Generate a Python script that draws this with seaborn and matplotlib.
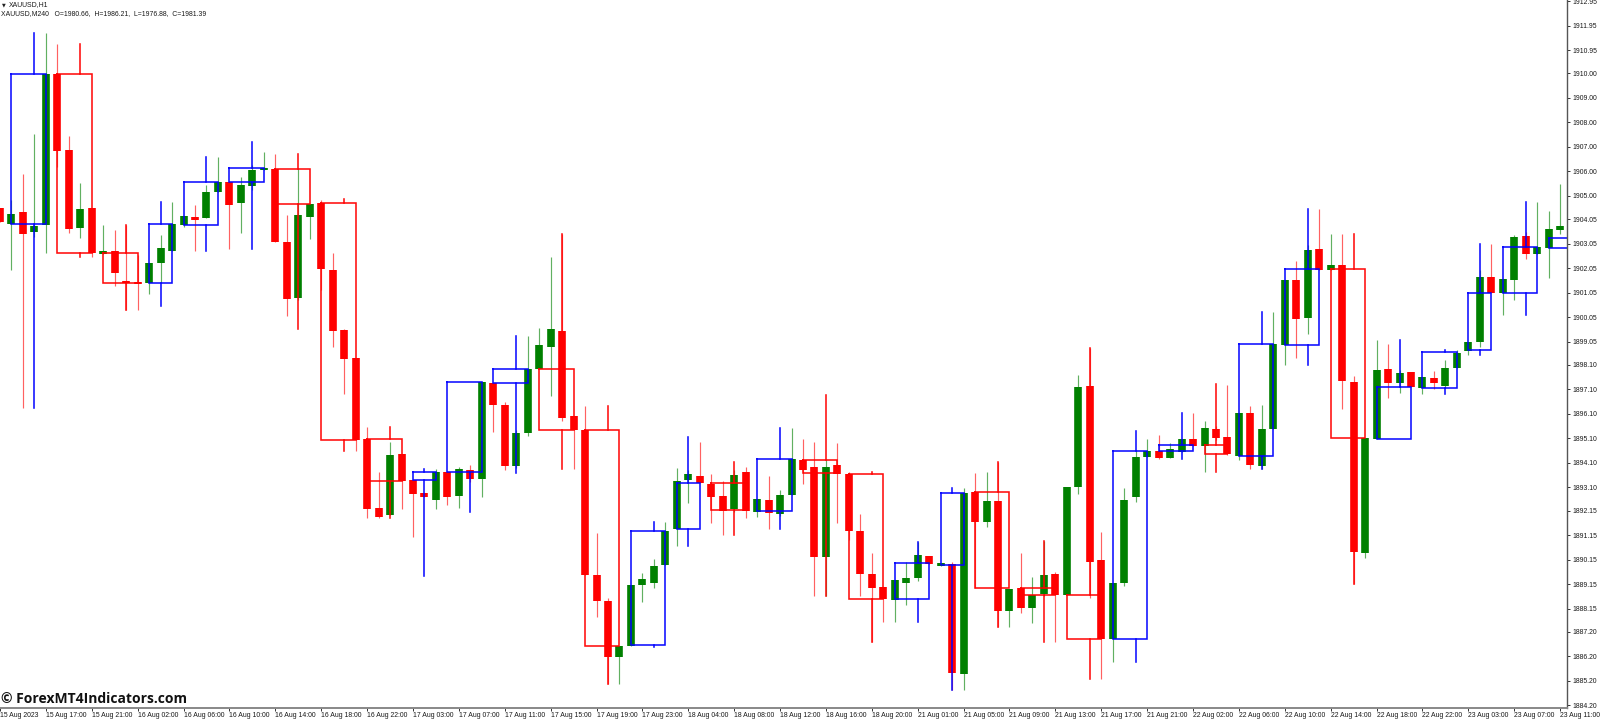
import matplotlib
matplotlib.use("Agg")
import matplotlib.pyplot as plt
import pandas as pd
import seaborn as sns

# H1 candles
opens = [1904.51,1903.85,1904.34,1903.53,1903.81,1909.98,1906.88,1903.69,1904.51,1902.63,
1902.75,1901.53,1901.49,1901.45,1902.26,1902.75,1903.81,1904.14,1904.10,1905.16,
1905.57,1904.71,1905.41,1906.06,1906.10,1903.12,1900.83,1904.14,1904.71,1901.98,
1899.53,1898.38,1895.08,1892.26,1891.97,1894.46,1893.40,1892.87,1892.58,1893.73,
1892.75,1893.81,1893.44,1897.36,1896.46,1893.97,1895.32,1897.93,1898.83,1899.49,
1896.01,1895.44,1889.52,1888.46,1886.17,1886.62,1889.11,1889.20,1889.93,1891.40,
1893.40,1893.56,1893.24,1892.75,1892.22,1893.73,1892.10,1892.58,1892.01,1892.79,
1894.22,1893.93,1890.26,1894.01,1893.65,1891.32,1889.56,1889.03,1888.50,1889.20,
1889.40,1890.30,1889.89,1889.97,1885.48,1892.91,1891.69,1892.54,1888.05,1888.99,
1888.18,1888.75,1889.56,1888.71,1893.12,1897.24,1890.14,1886.91,1889.20,1892.71,
1894.34,1894.59,1894.30,1894.55,1895.08,1894.79,1895.48,1895.16,1894.38,1896.14,
1893.97,1895.48,1898.91,1901.57,1900.02,1902.83,1901.98,1902.18,1897.40,1890.42,
1895.08,1897.93,1897.36,1897.81,1897.16,1897.57,1897.24,1897.97,1898.67,1899.04,
1901.69,1901.04,1901.57,1903.36,1902.63,1902.87,1903.61]
highs = [1904.51,1904.83,1905.90,1907.53,1911.65,1911.20,1907.45,1905.53,1904.51,1903.81,
1903.61,1903.81,1902.59,1902.26,1903.40,1904.75,1904.18,1904.63,1905.45,1906.59,
1905.57,1905.77,1906.26,1906.79,1906.71,1904.22,1906.14,1904.67,1904.83,1902.67,
1899.57,1898.38,1895.57,1893.73,1894.95,1894.46,1893.40,1892.87,1893.85,1893.73,
1893.93,1894.01,1897.40,1897.36,1896.59,1895.44,1899.28,1899.61,1902.51,1903.45,
1896.01,1896.42,1891.24,1888.58,1886.62,1889.11,1889.60,1890.18,1891.69,1893.89,
1893.81,1894.95,1893.65,1893.36,1893.81,1893.93,1892.63,1893.56,1892.99,1895.52,
1895.08,1894.95,1894.20,1894.91,1893.73,1892.01,1890.42,1889.03,1889.32,1890.05,
1890.87,1890.30,1890.01,1890.05,1893.08,1893.69,1893.73,1894.14,1888.95,1890.42,
1889.44,1890.91,1889.64,1893.12,1897.69,1898.79,1891.28,1889.20,1893.08,1894.63,
1895.08,1895.24,1894.91,1895.08,1896.14,1895.81,1895.60,1897.28,1896.14,1896.42,
1896.46,1900.26,1901.57,1902.34,1903.00,1904.47,1903.45,1903.45,1897.65,1895.12,
1899.12,1898.95,1897.89,1897.81,1897.61,1897.85,1898.30,1898.71,1899.04,1901.98,
1903.04,1901.61,1903.40,1903.53,1904.75,1904.38,1905.49]
lows = [1903.94,1901.98,1896.34,1903.32,1902.67,1906.18,1903.49,1903.28,1902.51,1902.63,
1901.32,1900.34,1900.34,1901.00,1901.45,1902.75,1903.73,1902.75,1904.10,1905.16,
1902.83,1903.49,1905.24,1906.06,1903.12,1900.10,1900.75,1903.24,1901.16,1898.83,
1896.91,1894.59,1891.85,1891.85,1891.97,1892.22,1891.07,1892.71,1892.22,1892.38,
1892.26,1893.32,1892.71,1895.36,1893.81,1893.89,1895.20,1897.93,1896.83,1895.81,
1893.85,1889.52,1887.81,1885.07,1885.07,1886.62,1888.42,1888.99,1889.93,1890.71,
1892.46,1893.28,1891.65,1891.16,1892.10,1891.85,1891.89,1891.40,1891.93,1892.79,
1893.24,1888.67,1888.67,1891.65,1890.95,1888.67,1886.79,1887.60,1887.60,1888.30,
1889.28,1889.97,1889.89,1884.83,1884.83,1888.99,1891.48,1887.40,1887.40,1887.97,
1887.56,1888.67,1886.79,1888.71,1892.83,1888.58,1885.28,1885.97,1889.07,1892.50,
1894.34,1894.26,1894.30,1894.55,1894.79,1893.73,1895.05,1894.42,1894.22,1893.85,
1893.85,1895.48,1898.10,1898.38,1899.36,1901.98,1901.98,1896.30,1889.16,1890.22,
1895.08,1896.75,1896.95,1897.20,1896.91,1897.12,1897.16,1897.97,1898.51,1898.83,
1901.04,1900.14,1900.75,1902.43,1902.63,1901.65,1903.45]
closes = [1903.94,1904.26,1903.45,1903.77,1909.98,1906.83,1903.65,1904.47,1902.67,1902.75,
1901.85,1901.45,1901.40,1902.26,1902.87,1903.85,1904.18,1904.02,1905.16,1905.57,
1904.63,1905.45,1906.06,1906.14,1903.12,1900.79,1904.22,1904.67,1902.02,1899.49,
1898.34,1895.03,1892.22,1891.89,1894.42,1893.36,1892.83,1892.71,1893.73,1892.71,
1893.85,1893.44,1897.40,1896.46,1893.97,1895.32,1897.93,1898.91,1899.57,1895.93,
1895.44,1889.52,1888.46,1886.17,1886.62,1889.11,1889.36,1889.89,1891.32,1893.36,
1893.65,1893.28,1892.71,1892.14,1893.61,1892.14,1892.63,1892.05,1892.79,1894.26,
1893.81,1890.26,1893.93,1893.65,1891.32,1889.56,1888.99,1888.54,1889.32,1889.40,
1890.34,1889.97,1890.01,1885.52,1892.87,1891.69,1892.54,1888.05,1888.95,1888.18,
1888.71,1889.52,1888.71,1893.12,1897.20,1890.05,1886.91,1889.20,1892.58,1894.34,
1894.59,1894.30,1894.67,1895.08,1894.79,1895.52,1895.12,1894.46,1896.14,1894.01,
1895.48,1898.95,1901.57,1899.98,1902.79,1901.98,1902.18,1897.44,1890.46,1895.12,
1897.89,1897.36,1897.77,1897.20,1897.61,1897.36,1897.97,1898.59,1899.04,1901.69,
1901.04,1901.61,1903.32,1902.63,1902.91,1903.65,1903.77]

# H4 bars overlaid as outlined boxes
h4_first = [1,5,9,13,16,20,24,28,32,36,39,43,47,51,55,59,62,66,70,74,78,82,85,89,93,97,101,105,108,112,116,120,124,128,131,135]
h4_last  = [4,8,12,15,19,23,27,31,35,38,42,46,50,54,58,61,65,69,73,77,81,84,88,92,96,100,104,107,111,115,119,123,127,130,134,139]
h4_mid   = [3,7,11,14,18,22,26,30,34,37,41,45,49,53,57,60,64,68,72,76,80,83,87,91,95,99,103,106,110,114,118,122,126,129,133,137]
h4_open  = [1903.85,1909.98,1902.67,1901.45,1903.81,1905.57,1906.10,1904.71,1895.08,1893.40,1893.73,1897.36,1897.93,1895.44,1886.66,1891.40,1893.28,1892.14,1894.22,1893.65,1888.54,1889.93,1892.91,1888.99,1888.71,1886.91,1894.59,1894.83,1894.38,1898.91,1902.02,1895.08,1897.16,1898.71,1901.04,1902.87]
h4_close = [1909.98,1902.67,1901.45,1903.85,1905.57,1906.14,1904.67,1895.03,1893.36,1893.73,1897.40,1897.93,1895.44,1886.62,1891.32,1893.28,1892.18,1894.26,1893.69,1888.54,1890.01,1892.87,1888.99,1888.71,1886.91,1894.59,1894.83,1894.46,1898.95,1902.02,1895.12,1897.20,1898.63,1901.04,1902.91,1903.28]
h4_high  = [1911.65,1911.20,1903.81,1904.75,1906.59,1907.20,1906.71,1904.87,1895.57,1893.85,1897.40,1899.28,1903.45,1896.42,1891.69,1895.16,1894.14,1895.52,1896.87,1893.73,1890.87,1893.08,1894.14,1890.91,1898.79,1895.40,1896.14,1897.32,1900.26,1904.47,1903.45,1899.12,1898.71,1903.04,1904.75,1903.28]
h4_low   = [1896.34,1902.51,1900.34,1900.51,1902.75,1902.83,1899.57,1894.59,1891.85,1889.48,1892.10,1893.69,1893.85,1885.07,1886.58,1890.71,1891.16,1891.40,1888.67,1886.79,1887.60,1884.83,1887.40,1886.79,1885.28,1885.97,1894.26,1893.73,1893.85,1898.10,1889.16,1895.08,1896.91,1898.51,1900.14,1902.87]

# axis text
time_labels = ["15 Aug 2023","15 Aug 17:00","15 Aug 21:00","16 Aug 02:00","16 Aug 06:00","16 Aug 10:00","16 Aug 14:00","16 Aug 18:00","16 Aug 22:00",
"17 Aug 03:00","17 Aug 07:00","17 Aug 11:00","17 Aug 15:00","17 Aug 19:00","17 Aug 23:00","18 Aug 04:00","18 Aug 08:00","18 Aug 12:00","18 Aug 16:00","18 Aug 20:00",
"21 Aug 01:00","21 Aug 05:00","21 Aug 09:00","21 Aug 13:00","21 Aug 17:00","21 Aug 21:00","22 Aug 02:00","22 Aug 06:00","22 Aug 10:00","22 Aug 14:00","22 Aug 18:00","22 Aug 22:00",
"23 Aug 03:00","23 Aug 07:00","23 Aug 11:00"]
price_ticks = [1912.95,1911.95,1910.95,1910.00,1909.00,1908.00,1907.00,1906.00,1905.00,1904.05,1903.05,1902.05,1901.05,1900.05,1899.05,1898.10,1897.10,1896.10,1895.10,1894.10,1893.10,1892.15,1891.15,1890.15,1889.15,1888.15,1887.20,1886.20,1885.20,1884.20]

sns.set_style("white")
plt.rcParams["font.family"] = ["Liberation Sans", "DejaVu Sans"]

fig = plt.figure(figsize=(16, 7.2), dpi=100, facecolor="white")
ax = fig.add_axes([0, 1 - 708 / 720, 1567 / 1600, 708 / 720])

UP, DOWN = "#008000", "#ff0000"
bars = list(range(len(opens)))
colors = [UP if c >= o else DOWN for o, c in zip(opens, closes)]
palette = {UP: UP, DOWN: DOWN, "#0000ff": "#0000ff"}

wick = pd.DataFrame({"bar": bars * 2, "price": highs + lows, "color": colors * 2})
body = pd.DataFrame({"bar": bars * 2, "price": opens + closes, "color": colors * 2})

sns.lineplot(data=wick, x="bar", y="price", hue="color", units="bar", estimator=None,
             palette=palette, lw=0.85, alpha=0.62, legend=False, ax=ax, solid_capstyle="butt")
sns.lineplot(data=body, x="bar", y="price", hue="color", units="bar", estimator=None,
             palette=palette, lw=5.5, legend=False, ax=ax, solid_capstyle="butt")

rows = []
for k, (a, b, m, o, c, h, l) in enumerate(zip(h4_first, h4_last, h4_mid, h4_open, h4_close, h4_high, h4_low)):
    col = "#0000ff" if c > o else DOWN
    top, bot = max(o, c), min(o, c)
    for x, y in [(a, top), (b, top), (b, bot), (a, bot), (a, top)]:
        rows.append((f"box{k}", x, y, col))
    rows += [(f"up{k}", m, top, col), (f"up{k}", m, h, col), (f"dn{k}", m, bot, col), (f"dn{k}", m, l, col)]
h4 = pd.DataFrame(rows, columns=["unit", "x", "y", "color"])
sns.lineplot(data=h4, x="x", y="y", hue="color", units="unit", estimator=None, sort=False,
             palette=palette, lw=1.15, alpha=0.95, legend=False, ax=ax,
             solid_joinstyle="miter", solid_capstyle="projecting")

ax.set_xlim(0.096, 136.6)
ax.set_ylim(1884.09, 1913.0)
ax.set_xlabel("")
ax.set_ylabel("")

ax.set_xticks(list(range(0, 137, 4)))
ax.set_xticklabels(time_labels, ha="left", fontsize=4.95, color="#1a1a1a")
ax.set_yticks(price_ticks)
ax.set_yticklabels([f"{p:.2f}" for p in price_ticks], fontsize=4.95, color="#1a1a1a")
ax.yaxis.tick_right()
ax.tick_params(axis="x", length=2.2, width=0.7, pad=0.6, color="#333333", bottom=True)
ax.tick_params(axis="y", length=2.2, width=0.7, pad=1.5, color="#333333", right=True, left=False)
for lab in ax.get_xticklabels():
    lab.set_clip_on(False)
for name in ("top", "left"):
    ax.spines[name].set_visible(False)
ax.spines["right"].set_color("#555555")
ax.spines["right"].set_linewidth(1.0)
ax.spines["bottom"].set_color("#888888")
ax.spines["bottom"].set_linewidth(1.4)

def px(x, y):
    return x / 1600, 1 - y / 720

fig.text(*px(1.5, 5), "▼", fontsize=3.5, va="center", color="#222222", family="DejaVu Sans")
fig.text(*px(9, 5), "XAUUSD,H1", fontsize=4.95, va="center", color="#1a1a1a")
fig.text(*px(1, 14), "XAUUSD,M240   O=1980.66,  H=1986.21,  L=1976.88,  C=1981.39",
         fontsize=4.95, va="center", color="#1a1a1a")
fig.text(*px(1, 699), "© ForexMT4Indicators.com", fontsize=10, fontweight="bold",
         va="center", color="#111111", family="Open Sans")

fig.savefig("out.png", dpi=100, facecolor="white")
